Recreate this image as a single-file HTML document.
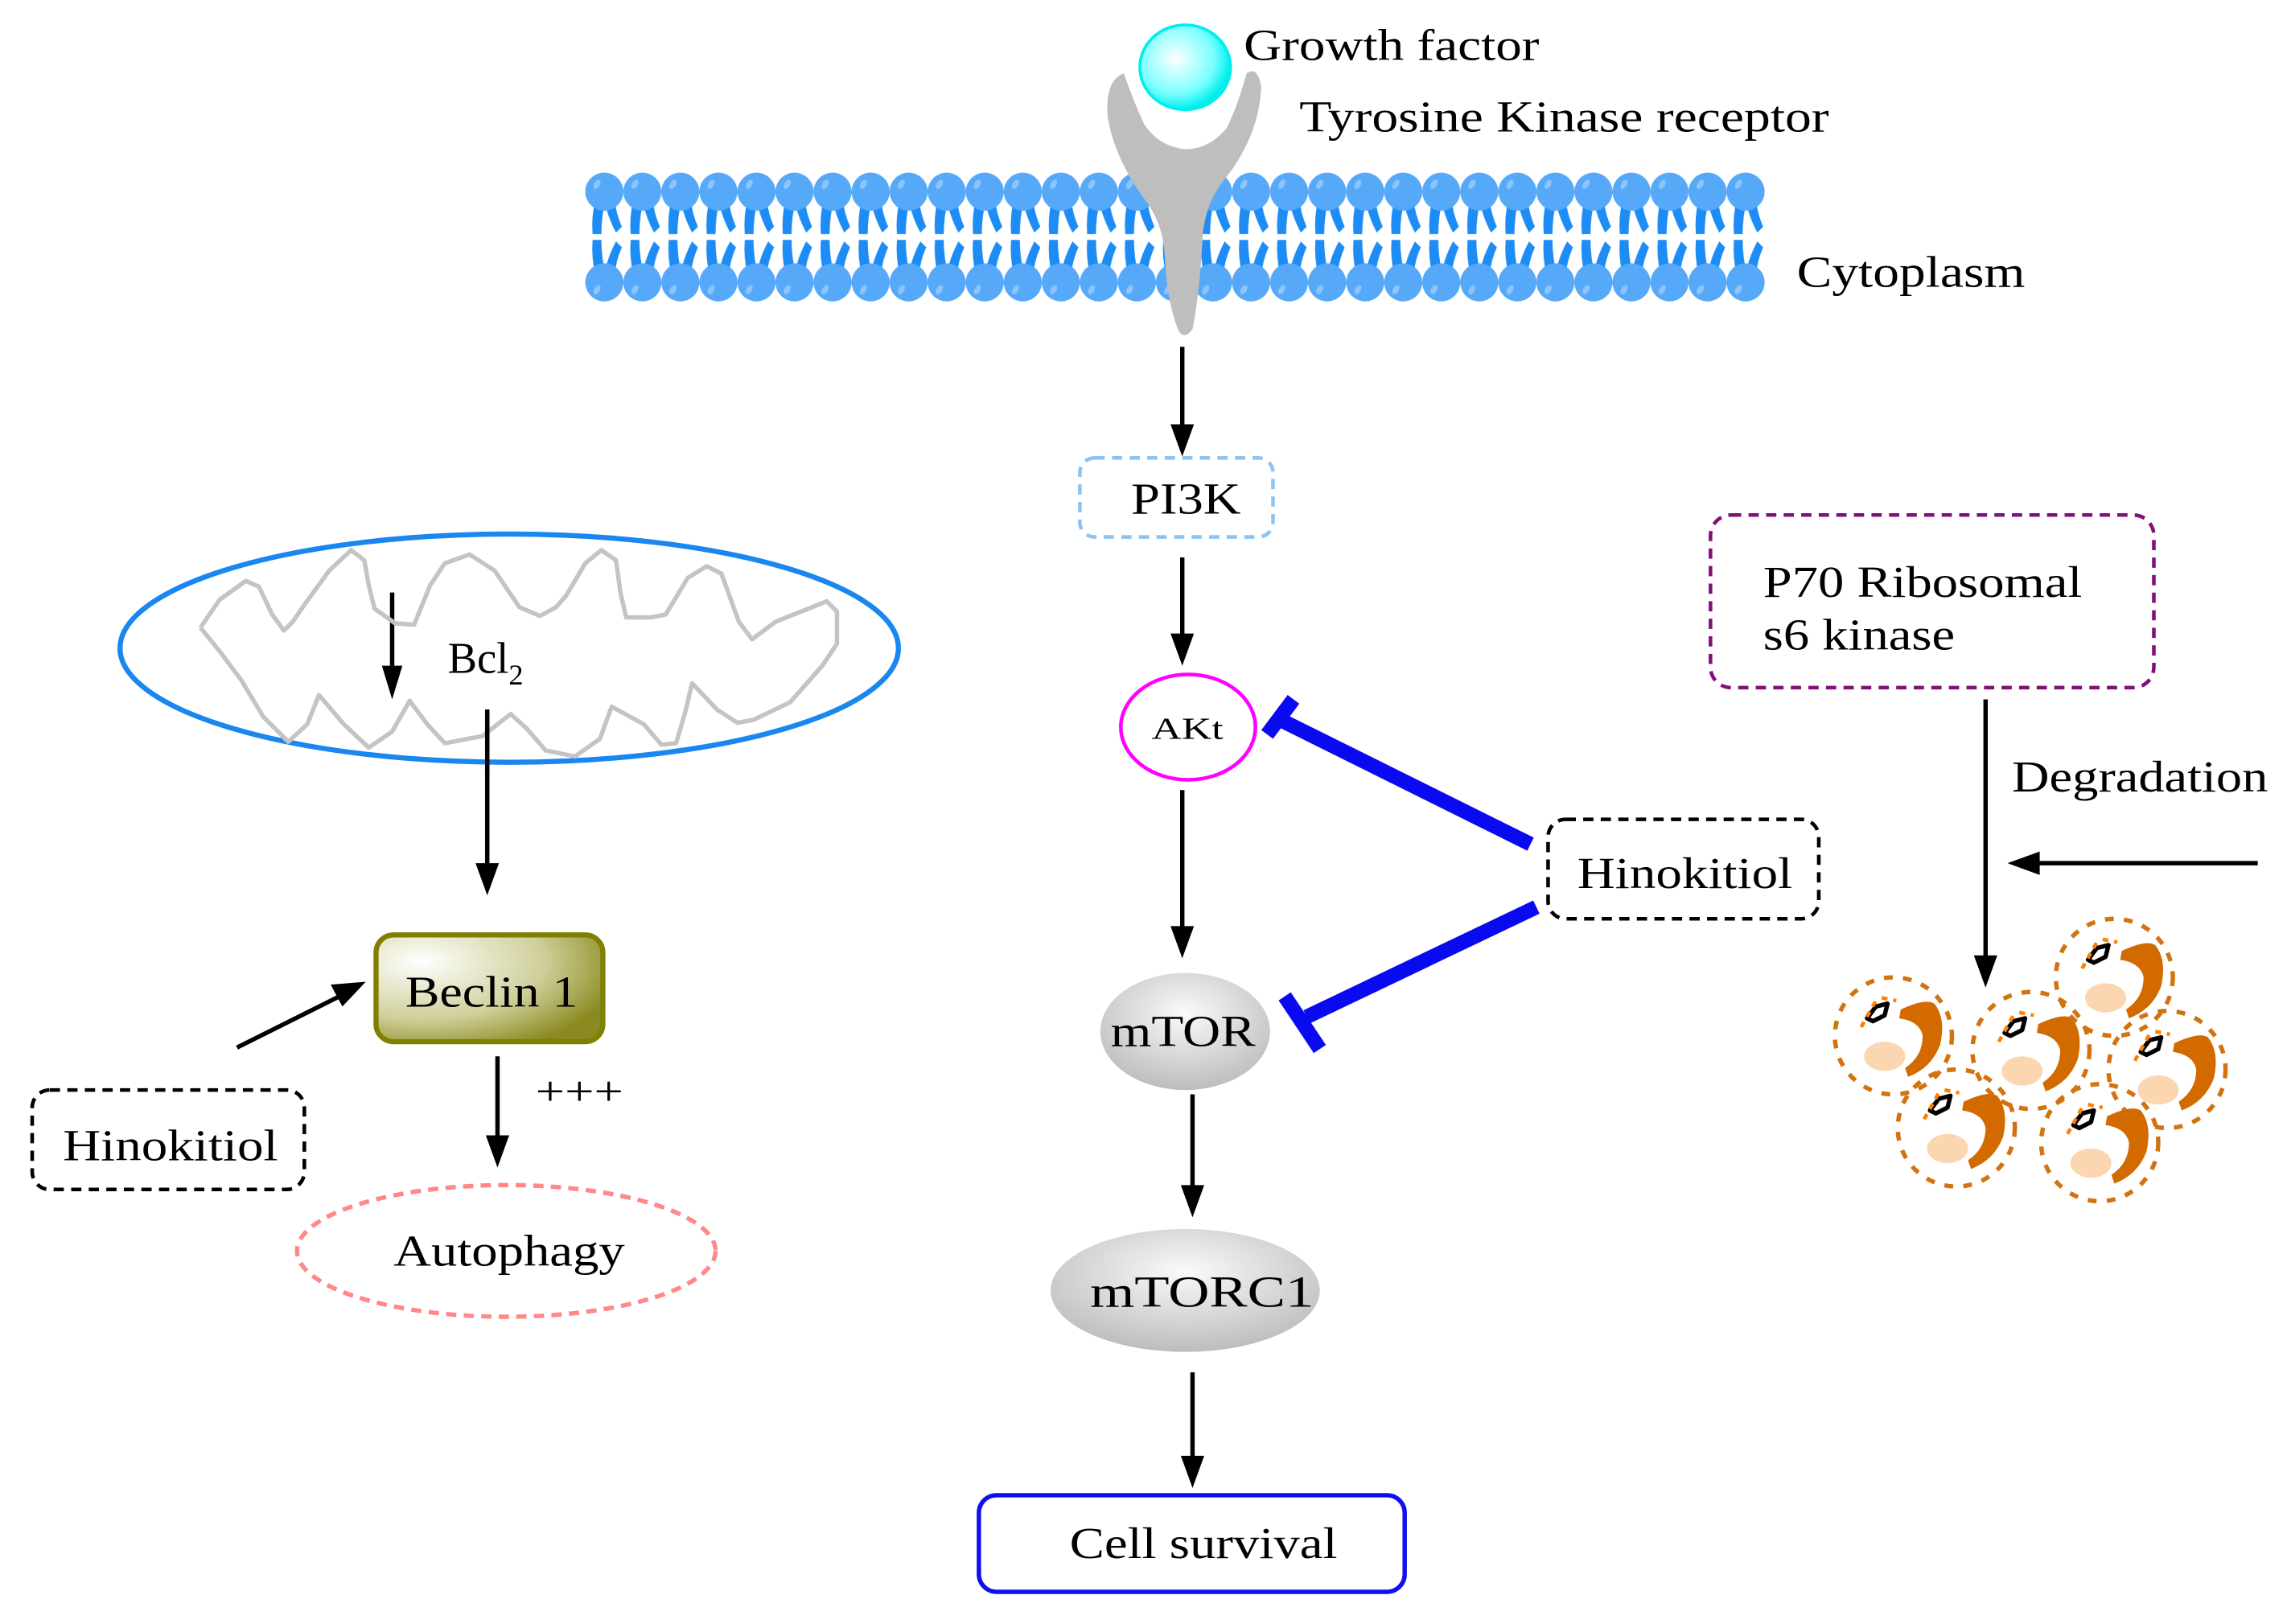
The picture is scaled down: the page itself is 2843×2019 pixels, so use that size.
<!DOCTYPE html>
<html><head><meta charset="utf-8"><style>
html,body{margin:0;padding:0;background:#fff;}
svg{display:block;}
text{font-family:"Liberation Serif",serif;fill:#000;}
</style></head><body>
<svg width="2843" height="2019" viewBox="0 0 1563 1110" preserveAspectRatio="none" xmlns="http://www.w3.org/2000/svg">
<defs>
<radialGradient id="gf" cx="0.4" cy="0.4" r="0.6"><stop offset="0" stop-color="#fff"/><stop offset="0.7" stop-color="#7ff"/><stop offset="1" stop-color="#0ee"/></radialGradient>
<radialGradient id="gray" cx="0.5" cy="0.35" r="0.7"><stop offset="0" stop-color="#fafafa"/><stop offset="1" stop-color="#b8b8b8"/></radialGradient>
<radialGradient id="bec" cx="0.2" cy="0.25" r="0.9"><stop offset="0" stop-color="#fff"/><stop offset="0.6" stop-color="#cfcf9a"/><stop offset="1" stop-color="#8a8a20"/></radialGradient>
<pattern id="lip" x="400" y="112" width="26" height="100" patternUnits="userSpaceOnUse">
<path d="M7 24 Q4 36 5 48 L11 48 Q11 36 14 24Z M13 24 Q15 36 21 47 L25 43 Q21 34 20 24Z" fill="#1e8cf5"/>
<path d="M7 76 Q4 64 5 52 L11 52 Q11 64 14 76Z M13 76 Q15 64 21 53 L25 57 Q21 66 20 76Z" fill="#1e8cf5"/>
<circle cx="13" cy="19" r="13" fill="#56a8f8"/>
<circle cx="13" cy="81" r="13" fill="#56a8f8"/>
<ellipse cx="8" cy="14" rx="2" ry="3.5" fill="#8cc4fb" transform="rotate(30 8 14)"/>
<ellipse cx="8" cy="86" rx="2" ry="3.5" fill="#8cc4fb" transform="rotate(30 8 86)"/>
</pattern>
<g id="cell">
<circle cx="0" cy="0" r="40" fill="none" stroke="#d2730f" stroke-width="3" stroke-dasharray="6 7"/>
<path d="M5 -18 Q22 -26 28 -22 Q36 -12 32 6 Q26 22 10 28 L8 22 Q20 14 20 0 Q18 -10 4 -12Z" fill="#d26a00"/>
<ellipse cx="-6" cy="14" rx="14" ry="10" fill="#fcd6b0"/>
<path d="M-18 -12 L-12 -20 L-4 -22 L-6 -14 L-14 -10 Z" fill="none" stroke="#000" stroke-width="3" stroke-linejoin="round"/>
<path d="M-22 -6 L-12 -24 M-8 -26 L2 -24" stroke="#ff8000" stroke-width="2.5" stroke-dasharray="4 4"/>
</g>
</defs>

<rect x="400" y="112" width="806" height="100" fill="url(#lip)"/>

<path d="M768 50 Q755 55 757 80 Q762 110 785 140 Q795 155 796 175 Q798 210 806 227 Q810 232 815 225 Q820 200 822 160 Q824 140 835 125 Q860 95 862 60 Q860 45 852 50 Q845 75 838 88 Q826 102 810 102 Q792 100 782 85 Q775 70 768 50Z" fill="#bebebe"/>
<ellipse cx="810" cy="46" rx="31" ry="29" fill="url(#gf)" stroke="#0ee" stroke-width="2"/>
<g font-size="30" lengthAdjust="spacingAndGlyphs">
<text x="850" y="41" textLength="202" lengthAdjust="spacingAndGlyphs">Growth factor</text>
<text x="888" y="90" textLength="362" lengthAdjust="spacingAndGlyphs">Tyrosine Kinase receptor</text>
<text x="1228" y="196" textLength="156" lengthAdjust="spacingAndGlyphs">Cytoplasm</text>
</g>

<g stroke="#000" stroke-width="3" fill="none">
<line x1="808" y1="237" x2="808" y2="292"/>
<line x1="808" y1="381" x2="808" y2="435"/>
<line x1="808" y1="540" x2="808" y2="635"/>
<line x1="815" y1="748" x2="815" y2="812"/>
<line x1="815" y1="938" x2="815" y2="997"/>
<line x1="268" y1="405" x2="268" y2="458"/>
<line x1="333" y1="485" x2="333" y2="592"/>
<line x1="340" y1="722" x2="340" y2="778"/>
<line x1="1357" y1="478" x2="1357" y2="655"/>
<line x1="1543" y1="590" x2="1392" y2="590"/>
<line x1="162" y1="716" x2="232" y2="681"/>
</g>
<g fill="#000">
<path d="M800 290 L808 312 L816 290Z"/>
<path d="M800 433 L808 455 L816 433Z"/>
<path d="M800 633 L808 655 L816 633Z"/>
<path d="M807 810 L815 832 L823 810Z"/>
<path d="M807 995 L815 1017 L823 995Z"/>
<path d="M261 455 L268 478 L275 455Z"/>
<path d="M325 590 L333 612 L341 590Z"/>
<path d="M332 776 L340 798 L348 776Z"/>
<path d="M1349 653 L1357 675 L1365 653Z"/>
<path d="M1394 582 L1372 590 L1394 598Z"/>
<path d="M250 671 L226 673 L234 688Z"/>
</g>

<rect x="738" y="313" width="132" height="54" rx="10" fill="none" stroke="#8ec4f5" stroke-width="2.5" stroke-dasharray="7 5"/>
<text x="773" y="351" font-size="30" textLength="75" lengthAdjust="spacingAndGlyphs">PI3K</text>
<ellipse cx="812" cy="497" rx="46" ry="36" fill="#fff" stroke="#f0f" stroke-width="2.5"/>
<text x="787" y="505" font-size="21" textLength="49" lengthAdjust="spacingAndGlyphs">AKt</text>
<ellipse cx="810" cy="705" rx="58" ry="40" fill="url(#gray)"/>
<text x="759" y="715" font-size="30" textLength="99" lengthAdjust="spacingAndGlyphs">mTOR</text>
<ellipse cx="810" cy="882" rx="92" ry="42" fill="url(#gray)"/>
<text x="745" y="893" font-size="30" textLength="153" lengthAdjust="spacingAndGlyphs">mTORC1</text>
<rect x="669" y="1022" width="291" height="66" rx="12" fill="none" stroke="#1010ee" stroke-width="3"/>
<text x="731" y="1065" font-size="30" textLength="183" lengthAdjust="spacingAndGlyphs">Cell survival</text>

<g stroke="#0a0af0" stroke-width="10">
<line x1="1046" y1="577" x2="877" y2="493"/>
<line x1="866" y1="502" x2="884" y2="478"/>
<line x1="1050" y1="620" x2="893" y2="695"/>
<line x1="878" y1="681" x2="902" y2="717"/>
</g>
<rect x="1058" y="560" width="185" height="68" rx="12" fill="none" stroke="#000" stroke-width="2.5" stroke-dasharray="7 5"/>
<text x="1078" y="607" font-size="30" textLength="147" lengthAdjust="spacingAndGlyphs">Hinokitiol</text>

<ellipse cx="348" cy="443" rx="266" ry="78" fill="none" stroke="#1a86f0" stroke-width="3.5"/>
<polyline points="137,429 150,410 168,397 177,401 186,420 194,431 200,425 209,412 225,390 240,376 249,383 252,400 256,416 270,426 283,427 294,400 304,385 321,379 338,390 355,415 369,421 380,415 387,407 400,385 411,376 421,383 424,405 428,422 445,422 455,420 470,395 483,387 493,392 505,425 514,437 530,425 565,411 572,418 572,440 562,455 540,480 515,492 504,494 490,485 473,467 468,488 462,508 452,509 440,495 418,483 410,505 393,517 373,513 360,498 349,488 330,503 304,508 292,495 280,479 268,500 252,511 235,495 218,475 210,495 197,507 180,490 165,465 150,445 137,429" fill="none" stroke="#c4c4c4" stroke-width="3" stroke-linejoin="round"/>
<line x1="333" y1="485" x2="333" y2="530" stroke="#000" stroke-width="3"/>
<text x="306" y="460" font-size="30">Bcl<tspan font-size="20" dy="8">2</tspan></text>

<rect x="257" y="639" width="155" height="73" rx="12" fill="url(#bec)" stroke="#808000" stroke-width="3.5"/>
<text x="277" y="688" font-size="30" textLength="118" lengthAdjust="spacingAndGlyphs">Beclin 1</text>
<rect x="22" y="745" width="186" height="68" rx="12" fill="none" stroke="#000" stroke-width="2.5" stroke-dasharray="7 5"/>
<text x="43" y="793" font-size="30" textLength="147" lengthAdjust="spacingAndGlyphs">Hinokitiol</text>
<text x="366" y="755" font-size="28" textLength="60" lengthAdjust="spacingAndGlyphs">+++</text>
<ellipse cx="346" cy="855" rx="143" ry="45" fill="none" stroke="#f88" stroke-width="3" stroke-dasharray="7 5"/>
<text x="269" y="865" font-size="30" textLength="158" lengthAdjust="spacingAndGlyphs">Autophagy</text>

<rect x="1169" y="352" width="303" height="118" rx="14" fill="none" stroke="#80107a" stroke-width="2.5" stroke-dasharray="7 5"/>
<text x="1205" y="408" font-size="30" textLength="218" lengthAdjust="spacingAndGlyphs">P70 Ribosomal</text>
<text x="1205" y="444" font-size="30" textLength="131" lengthAdjust="spacingAndGlyphs">s6 kinase</text>
<text x="1375" y="541" font-size="30" textLength="175" lengthAdjust="spacingAndGlyphs">Degradation</text>

<use href="#cell" x="1294" y="708"/>
<use href="#cell" x="1388" y="718"/>
<use href="#cell" x="1445" y="668"/>
<use href="#cell" x="1481" y="731"/>
<use href="#cell" x="1337" y="771"/>
<use href="#cell" x="1435" y="781"/>
</svg>
</body></html>
